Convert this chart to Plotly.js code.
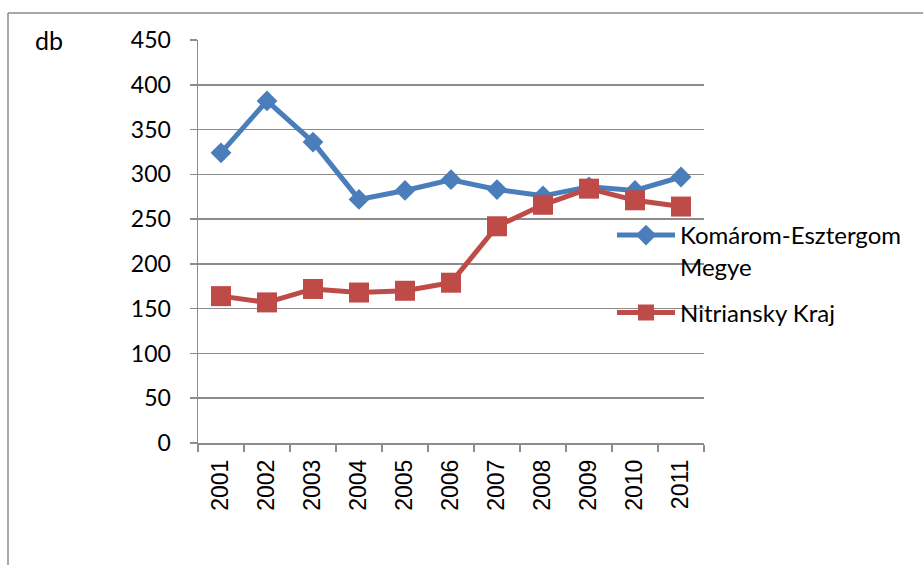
<!DOCTYPE html>
<html>
<head>
<meta charset="utf-8">
<script src="https://cdn.plot.ly/plotly-3.0.1.min.js"></script>
<style>html,body{margin:0;padding:0;background:#fff;}#chart{width:923px;height:565px;}</style>
</head>
<body>
<div id="chart"></div>
<script>
var years = ["2001","2002","2003","2004","2005","2006","2007","2008","2009","2010","2011"];
var komarom = [324, 382, 336, 272, 282, 294, 283, 276, 286, 282, 297];
var nitriansky = [164, 157, 172, 168, 170, 179, 242, 266, 284, 271, 264];
var yTicks = [0, 50, 100, 150, 200, 250, 300, 350, 400, 450];
var seriesNames = ["Komárom-Esztergom<br>Megye", "Nitriansky Kraj"];
var yLabel = "db";

var L = 198, R = 704, T = 40, B = 443, W = 923, H = 565;
function px2x(p){ return (p - L) / (R - L); }
function px2y(p){ return (B - p) / (B - T); }

var traces = [
  {x: years, y: komarom, name: seriesNames[0], legendgroup: 'a', type: 'scatter', mode: 'lines+markers',
   line: {color: '#4a7ebb', width: 5},
   marker: {symbol: 'diamond', size: 16, color: '#4a7ebb'}},
  {x: years, y: nitriansky, name: seriesNames[1], legendgroup: 'b', type: 'scatter', mode: 'lines+markers',
   line: {color: '#be4b48', width: 5},
   marker: {symbol: 'square', size: 20, color: '#be4b48'}}
];

var gridCol = '#8c8c8c';
var layout = {
  width: W, height: H,
  margin: {l: L, r: W - R, t: T, b: H - B, pad: 0},
  paper_bgcolor: '#fff', plot_bgcolor: '#fff',
  showlegend: true,
  hovermode: false,
  xaxis: {type: 'category', range: [-0.5, 10.5], tickson: 'boundaries',
    ticks: 'outside', ticklen: 7, tickwidth: 1.5, tickcolor: gridCol,
    showline: true, linecolor: gridCol, linewidth: 1.5, showgrid: false, zeroline: false,
    tickangle: -90, ticklabelstandoff: 6,
    tickfont: {family: 'Liberation Sans, Arial, sans-serif', size: 23, color: '#000'}},
  yaxis: {range: [0, 450], tickvals: yTicks, ticktext: yTicks.map(String),
    ticks: 'outside', ticklen: 7, tickwidth: 1.5, tickcolor: gridCol,
    showline: true, linecolor: gridCol, linewidth: 1.5,
    showgrid: true, gridcolor: gridCol, gridwidth: 1.5, zeroline: false,
    ticklabelstandoff: 14,
    tickfont: {family: 'Lato, sans-serif', size: 23, color: '#000'}},
  legend: {x: px2x(612), y: px2y(213), xanchor: 'left', yanchor: 'top',
    bgcolor: 'rgba(0,0,0,0)', itemwidth: 58, valign: 'top', tracegroupgap: 12,
    font: {family: 'Lato, sans-serif', size: 24, color: '#000'}},
  annotations: [
    {text: yLabel, xref: 'paper', yref: 'paper', x: px2x(33), y: px2y(40),
     xanchor: 'left', yanchor: 'middle', showarrow: false,
     font: {family: 'Lato, sans-serif', size: 25, color: '#000'}}
  ],
  shapes: [
    {type: 'line', xref: 'paper', yref: 'paper', x0: px2x(8), x1: px2x(8), y0: px2y(13), y1: px2y(600),
     line: {color: gridCol, width: 1.5}},
    {type: 'line', xref: 'paper', yref: 'paper', x0: px2x(8), x1: px2x(1000), y0: px2y(13), y1: px2y(13),
     line: {color: gridCol, width: 1.5}}
  ]
};

Plotly.newPlot('chart', traces, layout, {displayModeBar: false, staticPlot: true});
</script>
</body>
</html>
